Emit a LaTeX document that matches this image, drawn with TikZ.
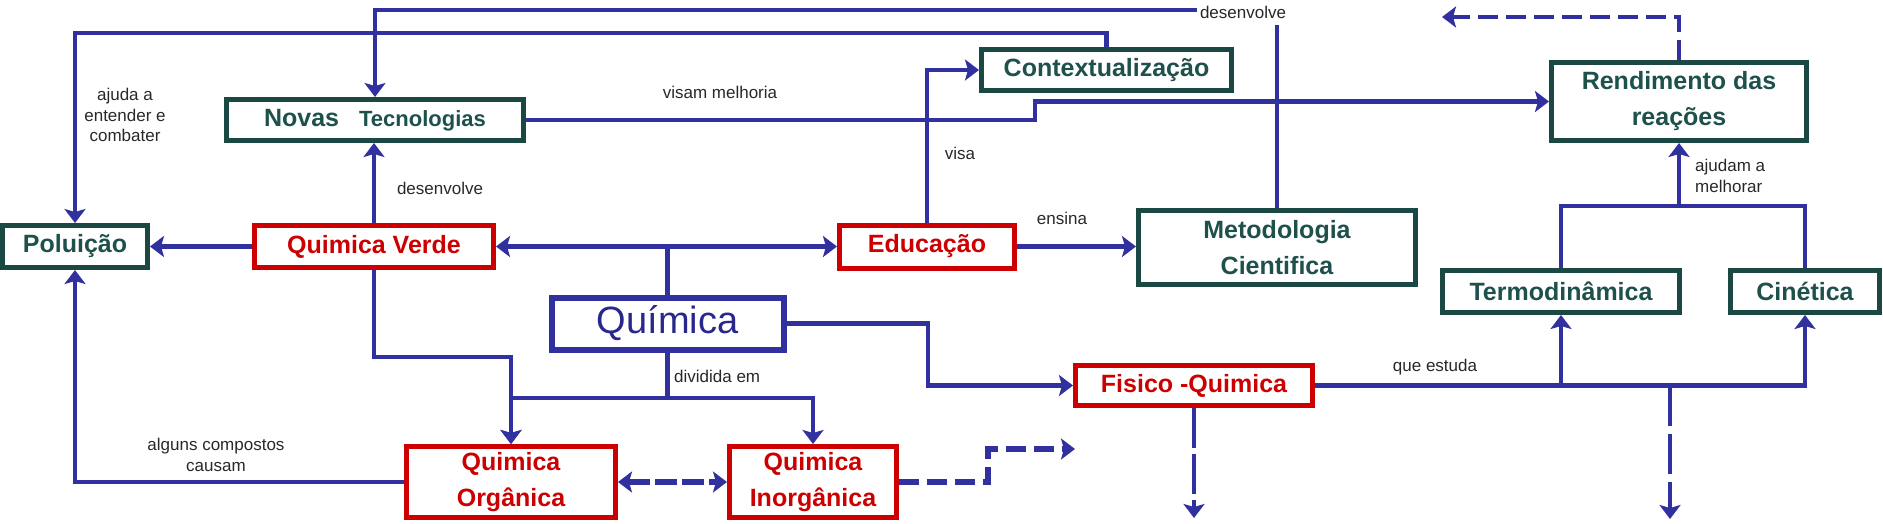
\documentclass[tikz,border=0pt]{standalone}
\usepackage{fontspec}
\setmainfont{Liberation Sans}
\usetikzlibrary{arrows.meta}
\definecolor{lblue}{RGB}{48,48,158}
\definecolor{bred}{RGB}{204,0,0}
\definecolor{bteal}{RGB}{28,72,68}
\definecolor{tteal}{RGB}{30,80,76}
\definecolor{qblue}{RGB}{40,40,140}
\definecolor{lgray}{RGB}{40,40,40}
\begin{document}
\begin{tikzpicture}[x=1pt,y=-1pt,
  box/.style={draw, fill=white, line width=5pt, inner sep=0pt, align=center, font=\fontsize{25}{36}\selectfont\bfseries},
  tealbox/.style={box, draw=bteal, text=tteal},
  redbox/.style={box, draw=bred, text=bred},
  qbox/.style={box, draw=lblue, text=qblue, line width=6pt, font=\fontsize{38}{44}\selectfont},
  conn/.style={draw=lblue, line width=4.5pt},
  tip/.style={},
  arr/.style={conn, -{Stealth[length=14pt,width=21pt,inset=3pt]}},
  arrboth/.style={conn, {Stealth[length=14pt,width=21pt,inset=3pt]}-{Stealth[length=14pt,width=21pt,inset=3pt]}},
  dashedline/.style={dash pattern=on 20pt off 8pt},
  lbl/.style={font=\fontsize{17}{20.5}\selectfont, text=lgray, inner sep=1pt, align=center},
]
\useasboundingbox (0,0) rectangle (1883,523);

% boxes
\node[tealbox, minimum width=145pt, minimum height=42pt] (pol) at (75,246.5) {Poluição};
\node[redbox, minimum width=239pt, minimum height=42pt] (qv) at (374,246.5) {Quimica Verde};
\node[tealbox, minimum width=297pt, minimum height=41pt] (novas) at (375,120) {Novas\hspace{20pt}{\fontsize{22}{26}\selectfont Tecnologias}};
\node[tealbox, minimum width=250pt, minimum height=41pt] (ctx) at (1106.5,70) {Contextualização};
\node[redbox, minimum width=175pt, minimum height=43pt] (edu) at (927,246.5) {Educação};
\node[tealbox, minimum width=277pt, minimum height=74pt] (met) at (1277,247.5) {Metodologia\\Cientifica};
\node[tealbox, minimum width=255pt, minimum height=78pt] (rend) at (1679,101.5) {Rendimento das\\reações};
\node[qbox, minimum width=232pt, minimum height=52pt] (quim) at (667.5,323.5) {Química};
\node[tealbox, minimum width=237pt, minimum height=42pt] (termo) at (1561,291.5) {Termodinâmica};
\node[tealbox, minimum width=149pt, minimum height=42pt] (cin) at (1805,291.5) {Cinética};
\node[redbox, minimum width=237pt, minimum height=40pt] (fis) at (1194,385.5) {Fisico -Quimica};
\node[redbox, minimum width=209pt, minimum height=71pt] (org) at (511,482) {Quimica\\Orgânica};
\node[redbox, minimum width=167pt, minimum height=71pt] (inorg) at (813,482) {Quimica\\Inorgânica};

% helper coordinates
\coordinate (ytop) at (0,10);
\coordinate (y33) at (0,33);
\coordinate (j3) at (1035,101.5);
\coordinate (dtip) at (1442,17);
\coordinate (br) at (1679,206);
\coordinate (j11) at (928,385.5);
\coordinate (dv) at (667.5,398);
\coordinate (qo) at (0,357);
\coordinate (k15) at (988,449);
\coordinate (e15) at (1075,449);
\coordinate (e16) at (1194,518);
\coordinate (e17) at (1670,519);

% connectors
\draw[arr] (met.north) |- (novas.north |- ytop) -- (novas.north);
\node[lbl, fill=white, minimum height=26pt, inner xsep=3pt] (ldes1) at (1243,12) {desenvolve};

\draw[arr] (ctx.north) |- (pol.north |- y33) -- (pol.north);
\node[lbl] (lajuda) at (125,115) {ajuda a\\entender e\\combater};

\draw[arr] (novas.east) -| (j3) -- (rend.west);
\node[lbl] (lvisam) at (720,92) {visam melhoria};

\draw[arr] (qv.west) -- (pol.east);
\draw[arr] (qv.north) -- (qv.north |- novas.south);
\node[lbl] (ldes2) at (440,188) {desenvolve};

\draw[arr] (quim.north) |- (qv.east);
\draw[arr] (quim.north) |- (edu.west);

\draw[arr] (edu.north) |- (ctx.west);
\node[lbl] (lvisa) at (960,153) {visa};

\draw[arr] (edu.east) -- (met.west |- edu.east);
\node[lbl] (lensina) at (1062,218) {ensina};

\draw[arr, dashedline] (rend.north) |- (dtip);

\draw[conn] (termo.north) |- (cin.north |- br) -- (cin.north);
\draw[arr] (br) -- (rend.south);
\node[lbl, anchor=west, align=left] (lajudam) at (1694,176) {ajudam a\\melhorar};

\draw[arr] (quim.east) -| (j11) -- (fis.west);

\draw[arr] (quim.south) -- (dv) -| (org.north);
\draw[arr] (dv) -| (inorg.north);
\node[lbl, anchor=west] (ldiv) at (673,376) {dividida em};
\draw[arr] (qv.south) -- (qv.south |- qo) -| (org.north);

\draw[arr] (org.west) -| (pol.south);
\node[lbl] (lalg) at (216,455) {alguns compostos\\causam};

\draw[arrboth, line width=6pt, dash pattern=on 22pt off 5pt] (org.east) -- (inorg.west);
\draw[arr, line width=6pt, dashedline] (inorg.east) -| (k15) -- (e15);

\draw[arr, dash pattern=on 40pt off 6pt] (fis.south) -- (e16);

\draw[arr] (fis.east) -| (cin.south);
\draw[arr] (fis.east -| termo.south) -- (termo.south);
\node[lbl] (lque) at (1435,367) {que estuda};
\draw[arr, dash pattern=on 40pt off 8pt] (fis.east -| e17) -- (e17);
\end{tikzpicture}
\end{document}
